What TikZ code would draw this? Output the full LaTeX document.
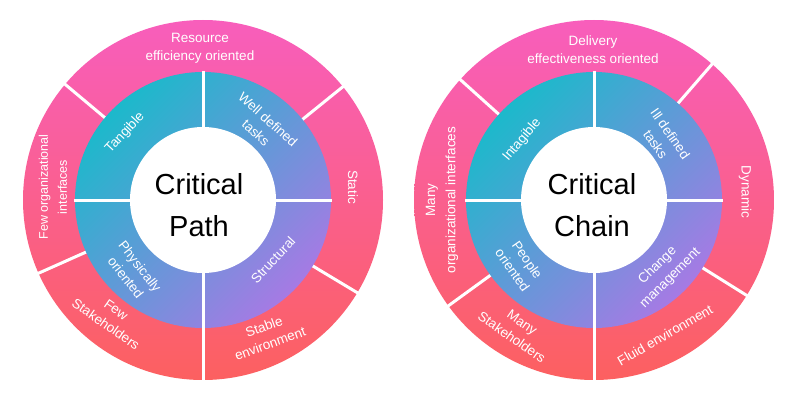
\documentclass[tikz,border=0pt]{standalone}
\usepackage{fontspec}
\setmainfont{Liberation Sans}
\definecolor{pinktop}{HTML}{F85EBC}
\definecolor{pinkmid}{HTML}{FAAAB4}
\definecolor{redbot}{HTML}{FC6060}
\definecolor{teal}{HTML}{1CB9CB}
\definecolor{purp}{HTML}{A67AE4}
\tikzset{
  lbl/.style={text=white,font=\fontsize{13.5}{18}\selectfont,align=center,inner sep=0pt},
  ctr/.style={text=black,font=\fontsize{29}{42}\selectfont,align=center,inner sep=0pt},
  sep/.style={white,line width=3pt}
}
\newcommand{\wheel}[5]{%
  \begin{scope}[shift={(#1,200)}]
  \shade[top color=pinktop,middle color=pinkmid,bottom color=redbot] (0,0) circle (180);
  \foreach \a in {#2,#3,#4,270,#5} \draw[sep] (\a:127) -- (\a:182);
  \shade[top color=teal,bottom color=purp,shading angle=45] (0,0) circle (128);
  \foreach \a in {0,90,180,270} \draw[sep] (\a:70) -- (\a:129);
  \fill[white] (0,0) circle (73);
  \end{scope}}
\begin{document}
\begin{tikzpicture}[x=1pt,y=1pt]
\useasboundingbox (0,0) rectangle (800,400);
\wheel{203}{39}{140}{204}{329}
\wheel{594}{49}{138}{216}{328}
% left
\node[ctr] (cp) at (199,195) {Critical\\Path};
\node[lbl] (l1) at (200,352) {Resource\\efficiency oriented};
\node[lbl,rotate=-90] (l2) at (353,213) {Static};
\node[lbl,rotate=20] (l3) at (267,65) {Stable\\environment};
\node[lbl,rotate=-35] (l4) at (111,83) {Few\\Stakeholders};
\node[lbl,rotate=90,font=\fontsize{12.5}{19}\selectfont] (l5) at (53,213) {Few organizational\\interfaces};
\node[lbl,rotate=47] (l6) at (125,267) {Tangible};
\node[lbl,rotate=-42] (l7) at (262,274) {Well defined\\tasks};
\node[lbl,rotate=-52] (l8) at (133,128) {Physically\\oriented};
\node[lbl,rotate=47] (l9) at (273,140) {Structural};
% right
\node[ctr] (cc) at (592,195) {Critical\\Chain};
\node[lbl] (r1) at (593,350) {Delivery\\effectiveness oriented};
\node[lbl,rotate=-90] (r2) at (745,208) {Dynamic};
\node[lbl,rotate=30] (r3) at (665,65) {Fluid environment};
\node[lbl,rotate=-35] (r4) at (517,70) {Many\\Stakeholders};
\node[lbl,rotate=90,font=\fontsize{13.5}{20}\selectfont] (r5) at (442,200) {Many\\organizational interfaces};
\node[lbl,rotate=50] (r6) at (522,260) {Intagible};
\node[lbl,rotate=-55] (r7) at (663,261) {Ill defined\\tasks};
\node[lbl,rotate=-55] (r8) at (520,135) {People\\oriented};
\node[lbl,rotate=45] (r9) at (664,128) {Change\\management};
\end{tikzpicture}
\end{document}
